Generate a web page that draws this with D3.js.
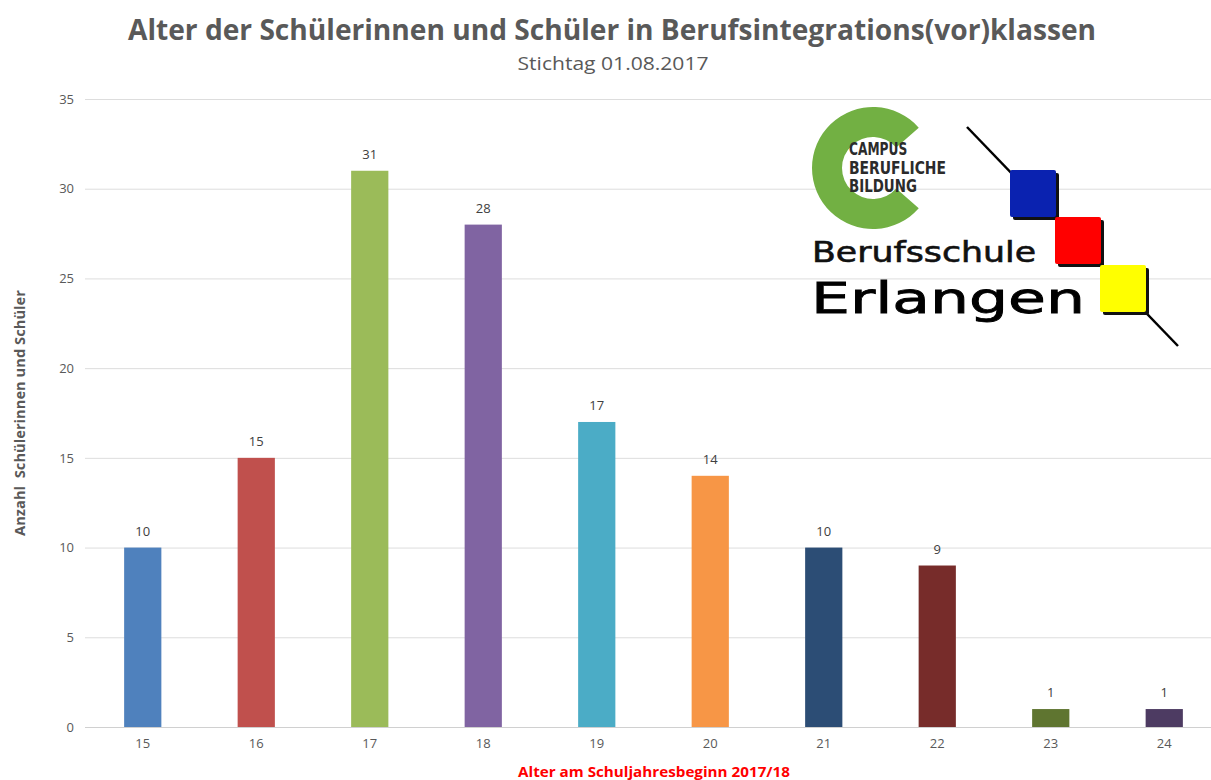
<!DOCTYPE html>
<html>
<head>
<meta charset="utf-8">
<script src="https://cdn.jsdelivr.net/npm/d3@7"></script>
<style>
  body { margin: 0; background: #fff; }
  svg text { font-family: "Open Sans", "Noto Sans", sans-serif; }
</style>
</head>
<body>
<div id="chart"></div>
<script>
// Daten
var ages = ["15", "16", "17", "18", "19", "20", "21", "22", "23", "24"];
var counts = [10, 15, 31, 28, 17, 14, 10, 9, 1, 1];
var barColors = ["#4F81BD", "#C0504D", "#9BBB59", "#8064A2", "#4BACC6", "#F79646", "#2C4D75", "#772C2A", "#5F7530", "#4D3B62"];
var yTicks = [0, 5, 10, 15, 20, 25, 30, 35];

var width = 1211, height = 780;
var svg = d3.select("#chart").append("svg")
    .attr("width", width)
    .attr("height", height);

// Skalen
var x = d3.scaleBand()
    .domain(ages)
    .range([86, 1221])
    .paddingInner(0.672)
    .paddingOuter(0.336);

var y = d3.scaleLinear()
    .domain([0, 35])
    .range([727, 99]);

// Gitterlinien
svg.append("g")
    .selectAll("line")
    .data(yTicks)
    .enter()
    .append("line")
    .attr("x1", 85)
    .attr("x2", width)
    .attr("y1", function (d) { return y(d) + 0.5; })
    .attr("y2", function (d) { return y(d) + 0.5; })
    .attr("stroke", function (d) { return d === 0 ? "#D0D0D0" : "#DDDDDD"; })
    .attr("stroke-width", 1);

// y-Achse
var yAxis = svg.append("g")
    .attr("transform", "translate(74,0)")
    .call(d3.axisLeft(y).tickValues(yTicks).tickSize(0).tickPadding(0));
yAxis.select(".domain").remove();
yAxis.selectAll("text")
    .attr("fill", "#595959")
    .style("font-size", "13px");

// x-Achse
var xAxis = svg.append("g")
    .attr("transform", "translate(0,736)")
    .call(d3.axisBottom(x).tickSize(0).tickPadding(0));
xAxis.select(".domain").remove();
xAxis.selectAll("text")
    .attr("fill", "#595959")
    .attr("dy", "0.9em")
    .style("font-size", "13px");

// Balken
svg.append("g")
    .selectAll("rect")
    .data(counts)
    .enter()
    .append("rect")
    .attr("x", function (d, i) { return x(ages[i]); })
    .attr("y", function (d) { return y(d); })
    .attr("width", x.bandwidth())
    .attr("height", function (d) { return y(0) - y(d); })
    .attr("fill", function (d, i) { return barColors[i]; });

// Beschriftung der Werte
svg.append("g")
    .selectAll("text")
    .data(counts)
    .enter()
    .append("text")
    .attr("x", function (d, i) { return x(ages[i]) + x.bandwidth() / 2; })
    .attr("y", function (d) { return y(d) - 12; })
    .attr("text-anchor", "middle")
    .attr("fill", "#404040")
    .style("font-size", "13px")
    .text(function (d) { return d; });

// Titel
svg.append("text")
    .attr("x", 612)
    .attr("y", 40)
    .attr("text-anchor", "middle")
    .attr("fill", "#595959")
    .attr("font-weight", "bold")
    .attr("textLength", 968)
    .attr("lengthAdjust", "spacingAndGlyphs")
    .style("font-size", "28px")
    .text("Alter der Schülerinnen und Schüler in Berufsintegrations(vor)klassen");

svg.append("text")
    .attr("x", 613)
    .attr("y", 70)
    .attr("text-anchor", "middle")
    .attr("fill", "#595959")
    .attr("textLength", 191)
    .attr("lengthAdjust", "spacingAndGlyphs")
    .style("font-size", "18px")
    .text("Stichtag 01.08.2017");

// Achsentitel
svg.append("text")
    .attr("transform", "translate(25,413) rotate(-90)")
    .attr("text-anchor", "middle")
    .attr("fill", "#595959")
    .attr("font-weight", "bold")
    .attr("textLength", 246)
    .attr("lengthAdjust", "spacingAndGlyphs")
    .style("font-size", "14px")
    .style("white-space", "pre")
    .text("Anzahl  Schülerinnen und Schüler");

svg.append("text")
    .attr("x", 654)
    .attr("y", 777)
    .attr("text-anchor", "middle")
    .attr("fill", "#FF0000")
    .attr("font-weight", "bold")
    .attr("textLength", 272)
    .attr("lengthAdjust", "spacingAndGlyphs")
    .style("font-size", "15px")
    .text("Alter am Schuljahresbeginn 2017/18");

// Logo
var logo = svg.append("g").attr("id", "logo");

// grünes C, offen nach rechts
var arc = d3.arc()
    .innerRadius(31)
    .outerRadius(61)
    .startAngle(Math.PI * 0.73)
    .endAngle(Math.PI * 2.27);
logo.append("path")
    .attr("transform", "translate(873,168)")
    .attr("d", arc())
    .attr("fill", "#72B043");

var campus = ["CAMPUS", "BERUFLICHE", "BILDUNG"];
logo.selectAll(".campus")
    .data(campus)
    .enter()
    .append("text")
    .attr("class", "campus")
    .attr("x", 849)
    .attr("y", function (d, i) { return 155 + i * 18.5; })
    .attr("fill", "#2b2b2b")
    .attr("font-weight", "bold")
    .attr("textLength", function (d) { return d.length * 9.7; })
    .attr("lengthAdjust", "spacingAndGlyphs")
    .style("font-family", "'DejaVu Sans Condensed', 'Liberation Sans Narrow', sans-serif")
    .style("font-size", "17px")
    .text(function (d) { return d; });

// Diagonale Linie
logo.append("line")
    .attr("x1", 967).attr("y1", 127)
    .attr("x2", 1178).attr("y2", 346)
    .attr("stroke", "#000")
    .attr("stroke-width", 2.5);

var squares = [
    { x: 1010, y: 170, c: "#0A22B0" },
    { x: 1055, y: 217, c: "#FF0000" },
    { x: 1100, y: 265, c: "#FFFF00" }
];
logo.selectAll(".shadow")
    .data(squares)
    .enter()
    .append("rect")
    .attr("x", function (d) { return d.x + 3; })
    .attr("y", function (d) { return d.y + 3; })
    .attr("width", 46).attr("height", 47)
    .attr("rx", 2)
    .attr("fill", "#111");
logo.selectAll(".sq")
    .data(squares)
    .enter()
    .append("rect")
    .attr("x", function (d) { return d.x; })
    .attr("y", function (d) { return d.y; })
    .attr("width", 46).attr("height", 47)
    .attr("rx", 2)
    .attr("fill", function (d) { return d.c; });

logo.append("text")
    .attr("x", 812)
    .attr("y", 262)
    .attr("fill", "#111")
    .attr("stroke", "#111")
    .attr("stroke-width", 0.6)
    .attr("textLength", 224)
    .attr("lengthAdjust", "spacingAndGlyphs")
    .style("font-family", "'DejaVu Sans', sans-serif")
    .style("font-size", "28px")
    .text("Berufsschule");

logo.append("text")
    .attr("x", 811)
    .attr("y", 313)
    .attr("fill", "#000")
    .attr("stroke", "#000")
    .attr("stroke-width", 0.8)
    .attr("textLength", 274)
    .attr("lengthAdjust", "spacingAndGlyphs")
    .style("font-family", "'DejaVu Sans', sans-serif")
    .style("font-size", "43px")
    .text("Erlangen");
</script>
</body>
</html>
